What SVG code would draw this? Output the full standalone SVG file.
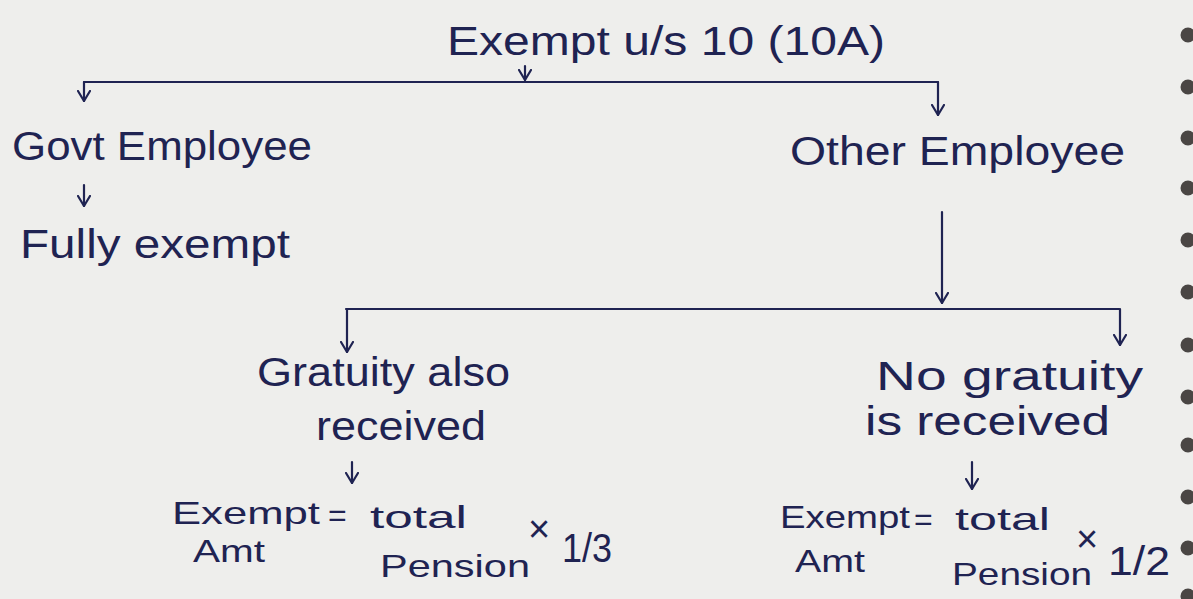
<svg xmlns="http://www.w3.org/2000/svg" width="1193" height="599" viewBox="0 0 1193 599">
  <style>
    .t { font-family: "Liberation Sans", "DejaVu Sans", sans-serif; fill: #1f2352; font-size: 40px; }
    .s { font-size: 32px; }
    .x { font-size: 38px; }
    .c { stroke: #1f2352; stroke-width: 2.2; fill: none; stroke-linecap: round; }
    .hole { fill: #4a4644; }
  </style>
  <defs>
    <marker id="ah" viewBox="0 0 12 14" refX="11" refY="7" markerWidth="12" markerHeight="14" markerUnits="userSpaceOnUse" orient="auto">
      <path d="M1,1 L11,7 L1,13" fill="none" stroke="#1f2352" stroke-width="2.2" stroke-linecap="round" stroke-linejoin="round"/>
    </marker>
  </defs>
  <rect width="1193" height="599" fill="#eeeeec"/>
  <g id="holes">
    <circle class="hole" cx="1188" cy="35" r="7.5"/>
    <circle class="hole" cx="1188" cy="87" r="7.5"/>
    <circle class="hole" cx="1188" cy="138" r="7.5"/>
    <circle class="hole" cx="1188" cy="188" r="7.5"/>
    <circle class="hole" cx="1188" cy="240" r="7.5"/>
    <circle class="hole" cx="1188" cy="292" r="7.5"/>
    <circle class="hole" cx="1188" cy="345" r="7.5"/>
    <circle class="hole" cx="1188" cy="397" r="7.5"/>
    <circle class="hole" cx="1188" cy="445" r="7.5"/>
    <circle class="hole" cx="1188" cy="497" r="7.5"/>
    <circle class="hole" cx="1188" cy="548" r="7.5"/>
    <circle class="hole" cx="1188" cy="596" r="7.5"/>
  </g>
  <g id="connectors">
    <line class="c" x1="525" y1="66" x2="525" y2="80" marker-end="url(#ah)"/>
    <line class="c" x1="84" y1="82" x2="938" y2="82"/>
    <line class="c" x1="84" y1="82" x2="84" y2="101" marker-end="url(#ah)"/>
    <line class="c" x1="938" y1="82" x2="938" y2="115" marker-end="url(#ah)"/>
    <line class="c" x1="84" y1="185" x2="84" y2="206" marker-end="url(#ah)"/>
    <line class="c" x1="942" y1="212" x2="942" y2="303" marker-end="url(#ah)"/>
    <line class="c" x1="346" y1="309" x2="1119" y2="309"/>
    <line class="c" x1="347" y1="309" x2="347" y2="352" marker-end="url(#ah)"/>
    <line class="c" x1="1120" y1="309" x2="1120" y2="345" marker-end="url(#ah)"/>
    <line class="c" x1="352" y1="462" x2="352" y2="483" marker-end="url(#ah)"/>
    <line class="c" x1="972" y1="462" x2="972" y2="489" marker-end="url(#ah)"/>
  </g>
  <g id="title">
    <text class="t" x="447" y="55" textLength="438" lengthAdjust="spacingAndGlyphs">Exempt u/s 10 (10A)</text>
  </g>
  <g id="govt">
    <text class="t" x="12" y="160" textLength="300" lengthAdjust="spacingAndGlyphs">Govt Employee</text>
  </g>
  <g id="fully">
    <text class="t" x="20" y="258" textLength="270" lengthAdjust="spacingAndGlyphs">Fully exempt</text>
  </g>
  <g id="other">
    <text class="t" x="790" y="165" textLength="335" lengthAdjust="spacingAndGlyphs">Other Employee</text>
  </g>
  <g id="gratuity">
    <text class="t" x="257" y="386" textLength="253" lengthAdjust="spacingAndGlyphs">Gratuity also</text>
    <text class="t" x="316" y="440" textLength="170" lengthAdjust="spacingAndGlyphs">received</text>
  </g>
  <g id="nogratuity">
    <text class="t" x="876" y="390" textLength="267" lengthAdjust="spacingAndGlyphs">No gratuity</text>
    <text class="t" x="865" y="435" textLength="245" lengthAdjust="spacingAndGlyphs">is received</text>
  </g>
  <g id="formula-left">
    <text class="t s" x="172" y="524" textLength="148" lengthAdjust="spacingAndGlyphs">Exempt</text>
    <text class="t s" x="193" y="562" textLength="72" lengthAdjust="spacingAndGlyphs">Amt</text>
    <text class="t s" x="328" y="526">=</text>
    <text class="t s" x="370" y="528" textLength="97" lengthAdjust="spacingAndGlyphs">total</text>
    <text class="t s" x="380" y="577" textLength="150" lengthAdjust="spacingAndGlyphs">Pension</text>
    <text class="t x" x="528" y="542">×</text>
    <text class="t" x="562" y="562" textLength="50" lengthAdjust="spacingAndGlyphs">1/3</text>
  </g>
  <g id="formula-right">
    <text class="t s" x="780" y="528" textLength="130" lengthAdjust="spacingAndGlyphs">Exempt</text>
    <text class="t s" x="795" y="572" textLength="70" lengthAdjust="spacingAndGlyphs">Amt</text>
    <text class="t s" x="914" y="530">=</text>
    <text class="t s" x="955" y="530" textLength="95" lengthAdjust="spacingAndGlyphs">total</text>
    <text class="t s" x="952" y="585" textLength="140" lengthAdjust="spacingAndGlyphs">Pension</text>
    <text class="t x" x="1076" y="552">×</text>
    <text class="t" x="1108" y="575" textLength="62" lengthAdjust="spacingAndGlyphs">1/2</text>
  </g>
</svg>
